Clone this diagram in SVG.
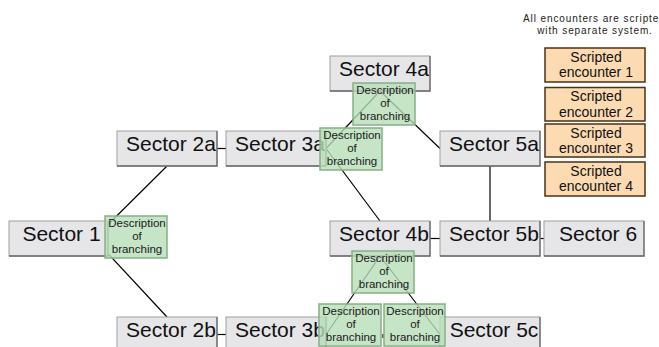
<svg xmlns="http://www.w3.org/2000/svg" width="659" height="347" viewBox="0 0 659 347">
<style>
.sec rect{fill:#e6e6e8;stroke:#a0a0a0;stroke-width:1}
.sec path{fill:none;stroke:#6a6a6a;stroke-width:1.3}
.sec text{font-family:"Liberation Sans",Arial,sans-serif;font-size:21px;fill:#111;text-anchor:middle}
.desc rect{fill:#b8ddb8;fill-opacity:0.8;stroke:#86b086;stroke-width:1.5}
.desc text{font-family:"Liberation Sans",Arial,sans-serif;font-size:11.5px;fill:#1a1a1a;text-anchor:middle}
.enc rect{fill:#fcdab2;stroke:#4a3216;stroke-width:1.5}
.enc text{font-family:"Liberation Sans",Arial,sans-serif;font-size:14px;fill:#111;text-anchor:middle}
.note{font-family:"Liberation Sans",Arial,sans-serif;font-size:10px;letter-spacing:0.9px;fill:#222}
#connectors line{stroke:#000;stroke-width:1.2;fill:none}
</style>
<rect width="659" height="347" fill="#fff"/>
<g id="connectors">
<line x1="94" y1="238.5" x2="167" y2="166"/>
<line x1="94" y1="238.5" x2="167" y2="317"/>
<line x1="217" y1="148.5" x2="226" y2="148.5"/>
<line x1="217" y1="334.5" x2="226" y2="334.5"/>
<line x1="326" y1="148.5" x2="380" y2="91"/>
<line x1="326" y1="148.5" x2="380" y2="221"/>
<line x1="380" y1="91" x2="440" y2="148.5"/>
<line x1="380" y1="256" x2="326" y2="334.5"/>
<line x1="380" y1="256" x2="440" y2="334.5"/>
<line x1="430" y1="238.5" x2="440" y2="238.5"/>
<line x1="540" y1="238.5" x2="544" y2="238.5"/>
<line x1="490" y1="166" x2="490" y2="221"/>
<line x1="383" y1="334" x2="383" y2="338"/>
</g>
<g id="sector1" class="sec"><rect x="9" y="221" width="99" height="35"/><path d="M108,221V256H9"/><text x="61.5" y="240.5">Sector 1</text></g>
<g id="sector2a" class="sec"><rect x="117" y="131" width="100" height="35"/><path d="M217,131V166H117"/><text x="171" y="150.5">Sector 2a</text></g>
<g id="sector2b" class="sec"><rect x="117" y="317" width="100" height="35"/><path d="M217,317V352H117"/><text x="171" y="336.5">Sector 2b</text></g>
<g id="sector3a" class="sec"><rect x="226" y="131" width="100" height="35"/><path d="M326,131V166H226"/><text x="280" y="150.5">Sector 3a</text></g>
<g id="sector3b" class="sec"><rect x="226" y="317" width="100" height="35"/><path d="M326,317V352H226"/><text x="280" y="336.5">Sector 3b</text></g>
<g id="sector4a" class="sec"><rect x="330" y="56" width="100" height="35"/><path d="M430,56V91H330"/><text x="384" y="75.5">Sector 4a</text></g>
<g id="sector4b" class="sec"><rect x="330" y="221" width="100" height="35"/><path d="M430,221V256H330"/><text x="384" y="240.5">Sector 4b</text></g>
<g id="sector5a" class="sec"><rect x="440" y="131" width="100" height="35"/><path d="M540,131V166H440"/><text x="494" y="150.5">Sector 5a</text></g>
<g id="sector5b" class="sec"><rect x="440" y="221" width="100" height="35"/><path d="M540,221V256H440"/><text x="494" y="240.5">Sector 5b</text></g>
<g id="sector5c" class="sec"><rect x="440" y="317" width="100" height="35"/><path d="M540,317V352H440"/><text x="494" y="336.5">Sector 5c</text></g>
<g id="sector6" class="sec"><rect x="544" y="221" width="100" height="35"/><path d="M644,221V256H544"/><text x="598" y="240.5">Sector 6</text></g>
<g id="desc1" class="desc"><rect x="105" y="216" width="62" height="42"/><text x="137" y="227">Description</text><text x="137" y="240">of</text><text x="137" y="253">branching</text></g>
<g id="desc4a" class="desc"><rect x="353" y="83" width="62" height="42"/><text x="385" y="94">Description</text><text x="385" y="107">of</text><text x="385" y="120">branching</text></g>
<g id="desc3a" class="desc"><rect x="320" y="128" width="62" height="42"/><text x="352" y="139">Description</text><text x="352" y="152">of</text><text x="352" y="165">branching</text></g>
<g id="desc4b" class="desc"><rect x="352" y="251" width="62" height="42"/><text x="384" y="262">Description</text><text x="384" y="275">of</text><text x="384" y="288">branching</text></g>
<g id="desc3b" class="desc"><rect x="319" y="304" width="62" height="42"/><text x="351" y="315">Description</text><text x="351" y="328">of</text><text x="351" y="341">branching</text></g>
<g id="desc5c" class="desc"><rect x="384" y="304" width="61" height="42"/><text x="415" y="315">Description</text><text x="415" y="328">of</text><text x="415" y="341">branching</text></g>
<g id="note"><text class="note" x="523" y="22">All encounters are scripte</text><text class="note" x="595" y="34" text-anchor="middle">with separate system.</text></g>
<g id="enc1" class="enc"><rect x="545" y="48" width="100" height="34"/><text x="596" y="61.5">Scripted</text><text x="596" y="77">encounter 1</text></g>
<g id="enc2" class="enc"><rect x="545" y="87.5" width="100" height="33.5"/><text x="596" y="101">Scripted</text><text x="596" y="116.5">encounter 2</text></g>
<g id="enc3" class="enc"><rect x="545" y="124" width="100" height="33"/><text x="596" y="137.5">Scripted</text><text x="596" y="153">encounter 3</text></g>
<g id="enc4" class="enc"><rect x="545" y="162" width="100" height="34"/><text x="596" y="175.5">Scripted</text><text x="596" y="191">encounter 4</text></g>
</svg>
